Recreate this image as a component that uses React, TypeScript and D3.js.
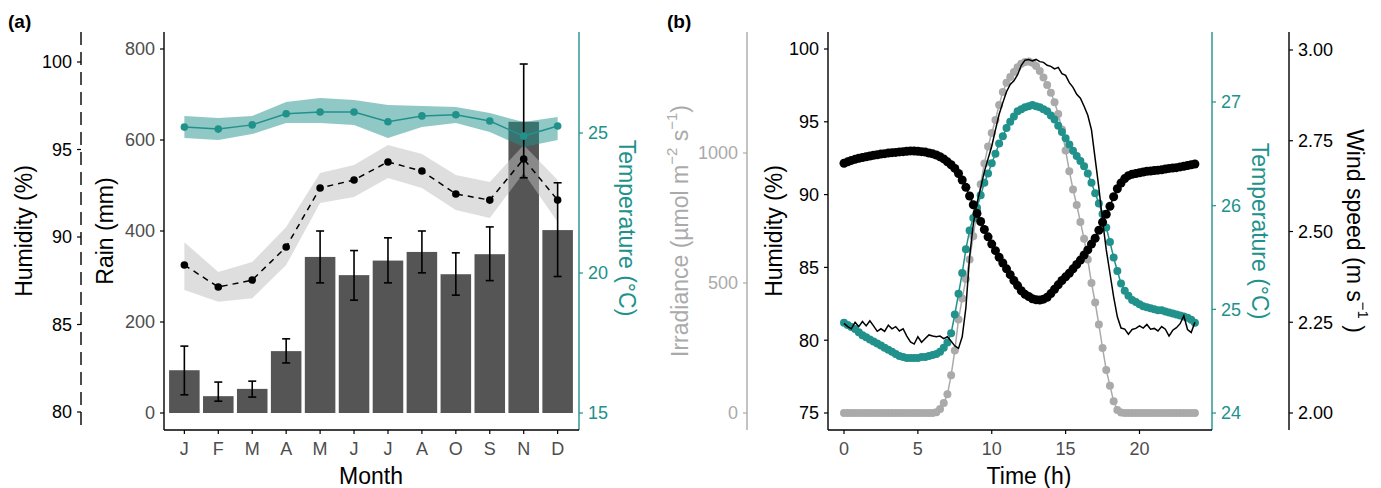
import * as d3 from "d3";

// ---- panel (a): monthly data ----
const months = ["J", "F", "M", "A", "M", "J", "J", "A", "O", "S", "N", "D"];
const rain = [94, 37, 53, 136, 343, 303, 335, 354, 305, 349, 640, 402];
const rainLo = [40, 26, 35, 110, 286, 248, 286, 308, 259, 291, 517, 300];
const rainHi = [147, 68, 70, 163, 400, 357, 385, 400, 352, 409, 767, 506];
const humMonth = [88.4, 87.14, 87.54, 89.43, 92.8, 93.26, 94.29, 93.77, 92.46, 92.11, 94.46, 92.11];
const humLo = [86.97, 86.3, 86.5, 88.4, 91.94, 92.29, 93.37, 92.8, 91.54, 91.09, 93.66, 90.86];
const humHi = [89.7, 88.0, 88.57, 90.57, 93.66, 94.11, 95.26, 94.74, 93.54, 93.14, 95.26, 93.26];
const tempMonth = [25.21, 25.14, 25.29, 25.69, 25.75, 25.75, 25.4, 25.61, 25.65, 25.43, 24.89, 25.25];
const tempLo = [24.82, 24.75, 24.96, 25.36, 25.36, 25.29, 24.82, 25.21, 25.36, 25.04, 24.5, 24.75];
const tempHi = [25.61, 25.54, 25.61, 26.11, 26.25, 26.18, 26.0, 25.96, 25.93, 25.71, 25.39, 25.57];

const rainTicks = [0, 200, 400, 600, 800];
const humTicksA = [80, 85, 90, 95, 100];
const tempTicksA = [15, 20, 25];

// ---- panel (b): daily cycle, every 15 min ----
const humDay = [
  92.15, 92.25, 92.35, 92.42, 92.5, 92.55, 92.6, 92.65,
  92.7, 92.74, 92.78, 92.81, 92.85, 92.88, 92.9, 92.93,
  92.95, 92.98, 93.0, 92.99, 92.98, 92.95, 92.92, 92.86,
  92.8, 92.72, 92.6, 92.45, 92.25, 92.05, 91.8, 91.45,
  91.0, 90.5, 89.9, 89.3, 88.7, 88.15, 87.6, 87.1,
  86.6, 86.15, 85.7, 85.3, 84.9, 84.5, 84.1, 83.75,
  83.4, 83.15, 83.0, 82.85, 82.78, 82.76, 82.82, 82.95,
  83.2, 83.5, 83.8, 84.1, 84.35, 84.6, 84.9, 85.2,
  85.5, 85.85, 86.2, 86.6, 87.0, 87.55, 88.1, 88.65,
  89.2, 89.85, 90.4, 90.8, 91.1, 91.3, 91.4, 91.45,
  91.5, 91.55, 91.6, 91.62, 91.65, 91.68, 91.7, 91.75,
  91.8, 91.82, 91.85, 91.9, 91.95, 92.0, 92.05, 92.1,
];
const tempDay = [
  24.87, 24.85, 24.83, 24.81, 24.78, 24.75, 24.73, 24.71,
  24.69, 24.67, 24.65, 24.63, 24.61, 24.59, 24.57, 24.55,
  24.54, 24.53, 24.53, 24.53, 24.53, 24.54, 24.54, 24.55,
  24.56, 24.57, 24.59, 24.63, 24.68, 24.77, 24.95, 25.15,
  25.35, 25.58, 25.76, 25.88, 25.98, 26.1, 26.22, 26.31,
  26.41, 26.5, 26.6, 26.67, 26.75, 26.81, 26.86, 26.91,
  26.93, 26.95, 26.96, 26.97, 26.96, 26.95, 26.93, 26.91,
  26.87, 26.83, 26.77, 26.71, 26.65, 26.59, 26.53, 26.48,
  26.43, 26.38, 26.31, 26.22, 26.12, 26.02, 25.92, 25.79,
  25.65, 25.5, 25.37, 25.25, 25.18, 25.13, 25.09, 25.07,
  25.05, 25.03, 25.02, 25.01, 25.0, 24.99, 24.99, 24.98,
  24.97, 24.96, 24.95, 24.94, 24.93, 24.92, 24.9, 24.87,
];
const irrDay = [
  0, 0, 0, 0, 0, 0, 0, 0,
  0, 0, 0, 0, 0, 0, 0, 0,
  0, 0, 0, 0, 0, 0, 0, 0,
  0, 3, 15, 38, 72, 145, 240, 360,
  440, 515, 590, 680, 780, 880, 960, 1025,
  1077, 1127, 1185, 1235, 1270, 1292, 1312, 1330,
  1343, 1350, 1352, 1347, 1335, 1315, 1290, 1262,
  1232, 1195, 1150, 1090, 1010, 930, 860, 800,
  735, 670, 590, 500, 425, 340, 250, 165,
  105, 45, 12, 2, 0, 0, 0, 0,
  0, 0, 0, 0, 0, 0, 0, 0,
  0, 0, 0, 0, 0, 0, 0, 0,
];
const windDay = [
  2.247, 2.238, 2.232, 2.25, 2.238, 2.252, 2.24, 2.254,
  2.24, 2.225, 2.232, 2.225, 2.242, 2.232, 2.238, 2.226,
  2.232, 2.212, 2.196, 2.19, 2.21, 2.195, 2.205, 2.215,
  2.212, 2.21, 2.212, 2.205, 2.21, 2.198, 2.185, 2.178,
  2.21, 2.29, 2.43, 2.52, 2.578, 2.62, 2.665, 2.7,
  2.735, 2.78, 2.823, 2.855, 2.885, 2.905, 2.915, 2.932,
  2.958, 2.972, 2.974, 2.97, 2.974, 2.968, 2.966, 2.958,
  2.955, 2.948, 2.952, 2.935, 2.93, 2.91, 2.897, 2.878,
  2.867, 2.845, 2.82, 2.78, 2.7, 2.62, 2.53, 2.45,
  2.385, 2.32, 2.265, 2.234, 2.231, 2.217, 2.23, 2.233,
  2.24, 2.234, 2.244, 2.231, 2.233, 2.226, 2.238, 2.231,
  2.212, 2.228, 2.235, 2.246, 2.268, 2.23, 2.222, 2.25,
];
const hours = d3.range(humDay.length).map((i) => i * 0.25);

const hourTicks = [0, 5, 10, 15, 20];
const irrTicks = [0, 500, 1000];
const humTicksB = [75, 80, 85, 90, 95, 100];
const tempTicksB = [24, 25, 26, 27];
const windTicks = [2.0, 2.25, 2.5, 2.75, 3.0];

const TEAL = "#21918c";
const GREY = "#aaaaaa";
const TICKTXT = "#4d4d4d";
const FONT = "'Liberation Sans', Arial, Helvetica, sans-serif";
const TOP = 32;
const BOTTOM = 430;
const TITLE = 23;

type Scale = d3.ScaleLinear<number, number>;

function VAxis({ scale, ticks, x, side, color, textColor, fmt, dash }: {
  scale: Scale; ticks: number[]; x: number; side: "left" | "right";
  color: string; textColor: string; fmt?: (v: number) => string; dash?: string;
}) {
  const s = side === "left" ? -1 : 1;
  return (
    <g>
      <line x1={x} x2={x} y1={TOP} y2={BOTTOM} stroke={color} strokeWidth={1.4} strokeDasharray={dash} />
      {ticks.map((t) => (
        <g key={t}>
          <line x1={x} x2={x + s * 4} y1={scale(t)} y2={scale(t)} stroke={color} strokeWidth={1.2} />
          <text
            x={x + s * 9}
            y={scale(t)}
            dy="0.35em"
            textAnchor={side === "left" ? "end" : "start"}
            fill={textColor}
            fontSize={18}
          >
            {fmt ? fmt(t) : t}
          </text>
        </g>
      ))}
    </g>
  );
}

function VTitle({ x, y, rot, color, children }: { x: number; y: number; rot: number; color: string; children: any }) {
  return (
    <text
      transform={`translate(${x},${y}) rotate(${rot})`}
      textAnchor="middle"
      dominantBaseline="central"
      fill={color}
      fontSize={TITLE}
    >
      {children}
    </text>
  );
}

export default function App() {
  // panel (a) scales
  const xBand = d3.scaleBand<number>().domain(d3.range(months.length)).range([164, 578]).paddingInner(0.1).paddingOuter(0.15);
  const bw = xBand.bandwidth();
  const cx = (i: number) => (xBand(i) ?? 0) + bw / 2;
  const rainY = d3.scaleLinear().domain([0, 800]).range([413, 49]);
  const humYa = d3.scaleLinear().domain([80, 100]).range([412, 62]);
  const tempYa = d3.scaleLinear().domain([15, 25]).range([413, 133]);
  const idx = d3.range(months.length);

  const humBand = d3.area<number>().x(cx).y0((i) => humYa(humLo[i])).y1((i) => humYa(humHi[i]));
  const tempBand = d3.area<number>().x(cx).y0((i) => tempYa(tempLo[i])).y1((i) => tempYa(tempHi[i]));
  const humLineA = d3.line<number>().x(cx).y((i) => humYa(humMonth[i]));
  const tempLineA = d3.line<number>().x(cx).y((i) => tempYa(tempMonth[i]));

  // panel (b) scales
  const xT = d3.scaleLinear().domain([0, 20]).range([844, 1139.5]);
  const humYb = d3.scaleLinear().domain([75, 100]).range([413, 49]);
  const irrY = d3.scaleLinear().domain([0, 1000]).range([413, 153]);
  const tempYb = d3.scaleLinear().domain([24, 27]).range([413, 102]);
  const windY = d3.scaleLinear().domain([2, 3]).range([413, 50]);
  const hIdx = d3.range(hours.length);
  const lineOf = (sc: Scale, arr: number[]) => d3.line<number>().x((i) => xT(hours[i])).y((i) => sc(arr[i]))(hIdx) ?? "";

  return (
    <svg
      width={1381}
      height={488}
      style={{ position: "absolute", left: 0, top: 0, background: "#fff" }}
      fontFamily={FONT}
    >
      {/* ================= panel (a) ================= */}
      <text x={8} y={28} fontSize={19} fontWeight="bold">(a)</text>

      {rain.map((v, i) => (
        <rect key={i} x={xBand(i)} y={rainY(v)} width={bw} height={rainY(0) - rainY(v)} fill="#555555" />
      ))}
      <path d={humBand(idx) ?? ""} fill="#bebebe" fillOpacity={0.5} />
      <path d={tempBand(idx) ?? ""} fill={TEAL} fillOpacity={0.5} />
      {idx.map((i) => (
        <g key={i} stroke="#000" strokeWidth={1.6}>
          <line x1={cx(i)} x2={cx(i)} y1={rainY(rainLo[i])} y2={rainY(rainHi[i])} />
          <line x1={cx(i) - 4} x2={cx(i) + 4} y1={rainY(rainLo[i])} y2={rainY(rainLo[i])} />
          <line x1={cx(i) - 4} x2={cx(i) + 4} y1={rainY(rainHi[i])} y2={rainY(rainHi[i])} />
        </g>
      ))}
      <path d={humLineA(idx) ?? ""} fill="none" stroke="#000" strokeWidth={1.5} strokeDasharray="6,5" />
      <path d={tempLineA(idx) ?? ""} fill="none" stroke={TEAL} strokeWidth={1.5} />
      {idx.map((i) => (
        <g key={i}>
          <circle cx={cx(i)} cy={humYa(humMonth[i])} r={3.8} fill="#000" />
          <circle cx={cx(i)} cy={tempYa(tempMonth[i])} r={3.8} fill={TEAL} />
        </g>
      ))}

      <VAxis scale={humYa} ticks={humTicksA} x={81} side="left" color="#000" textColor="#000" dash="13,7" />
      <VAxis scale={rainY} ticks={rainTicks} x={164} side="left" color="#000" textColor={TICKTXT} />
      <VAxis scale={tempYa} ticks={tempTicksA} x={579} side="right" color={TEAL} textColor={TEAL} />
      <line x1={164} x2={579} y1={BOTTOM} y2={BOTTOM} stroke="#000" strokeWidth={1.4} />
      {idx.map((i) => (
        <g key={i}>
          <line x1={cx(i)} x2={cx(i)} y1={BOTTOM} y2={BOTTOM + 4} stroke="#000" strokeWidth={1.2} />
          <text x={cx(i)} y={449} dy="0.35em" textAnchor="middle" fontSize={18} fill={TICKTXT}>{months[i]}</text>
        </g>
      ))}
      <text x={371} y={476} textAnchor="middle" dominantBaseline="central" fontSize={TITLE}>Month</text>
      <VTitle x={24} y={231} rot={-90} color="#000">Humidity (%)</VTitle>
      <VTitle x={105} y={231} rot={-90} color="#000">Rain (mm)</VTitle>
      <VTitle x={627} y={228} rot={90} color={TEAL}>Temperature (°C)</VTitle>

      {/* ================= panel (b) ================= */}
      <text x={667} y={28} fontSize={19} fontWeight="bold">(b)</text>

      <path d={lineOf(irrY, irrDay)} fill="none" stroke={GREY} strokeWidth={1.5} />
      {hIdx.map((i) => (
        <circle key={i} cx={xT(hours[i])} cy={irrY(irrDay[i])} r={4} fill={GREY} />
      ))}
      <path d={lineOf(tempYb, tempDay)} fill="none" stroke={TEAL} strokeWidth={1.5} />
      {hIdx.map((i) => (
        <circle key={i} cx={xT(hours[i])} cy={tempYb(tempDay[i])} r={4} fill={TEAL} />
      ))}
      <path d={lineOf(humYb, humDay)} fill="none" stroke="#000" strokeWidth={1.5} />
      {hIdx.map((i) => (
        <circle key={i} cx={xT(hours[i])} cy={humYb(humDay[i])} r={4.5} fill="#000" />
      ))}
      <path d={lineOf(windY, windDay)} fill="none" stroke="#000" strokeWidth={1.5} />

      <VAxis scale={irrY} ticks={irrTicks} x={747} side="left" color={GREY} textColor={GREY} />
      <VAxis scale={humYb} ticks={humTicksB} x={828} side="left" color="#000" textColor="#000" />
      <VAxis scale={tempYb} ticks={tempTicksB} x={1212} side="right" color={TEAL} textColor={TEAL} />
      <VAxis scale={windY} ticks={windTicks} x={1289} side="right" color="#000" textColor="#000" fmt={(v) => v.toFixed(2)} />
      <line x1={828} x2={1212} y1={BOTTOM} y2={BOTTOM} stroke="#000" strokeWidth={1.4} />
      {hourTicks.map((t) => (
        <g key={t}>
          <line x1={xT(t)} x2={xT(t)} y1={BOTTOM} y2={BOTTOM + 4} stroke="#000" strokeWidth={1.2} />
          <text x={xT(t)} y={449} dy="0.35em" textAnchor="middle" fontSize={18} fill={TICKTXT}>{t}</text>
        </g>
      ))}
      <text x={1029} y={476} textAnchor="middle" dominantBaseline="central" fontSize={TITLE}>Time (h)</text>

      <VTitle x={680} y={231} rot={-90} color={GREY}>
        Irradiance (µmol m<tspan dy={-9} fontSize={15}>−2</tspan>
        <tspan dy={9}> s</tspan><tspan dy={-9} fontSize={15}>−1</tspan><tspan dy={9}>)</tspan>
      </VTitle>
      <VTitle x={774} y={231} rot={-90} color="#000">Humidity (%)</VTitle>
      <VTitle x={1260} y={231} rot={90} color={TEAL}>Temperature (°C)</VTitle>
      <VTitle x={1355} y={231} rot={90} color="#000">
        Wind speed (m s<tspan dy={-9} fontSize={15}>−1</tspan><tspan dy={9}> )</tspan>
      </VTitle>
    </svg>
  );
}
